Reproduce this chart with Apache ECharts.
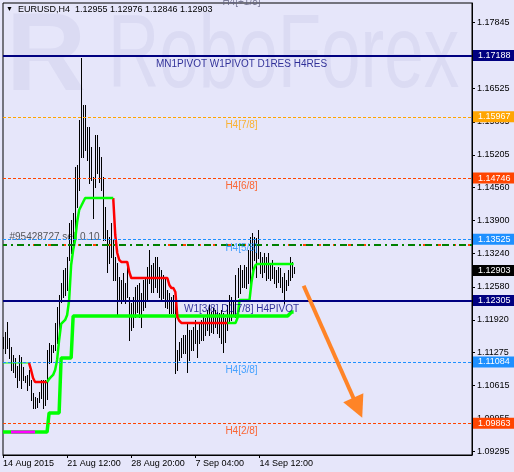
<!DOCTYPE html>
<html><head><meta charset="utf-8">
<script src="https://cdn.jsdelivr.net/npm/echarts@6/dist/echarts.min.js"></script>
<style>html,body{margin:0;padding:0;background:#E6E6FA;}#c{width:514px;height:472px;}</style>
</head><body><div id="c"></div>
<script>
// ---------- data ----------
const symbolName = 'EURUSD,H4';
const lastBar = [1.12955, 1.12976, 1.12846, 1.12903]; // O H L C

const highs = [
1.11580,1.11680,1.11879,1.11560,1.11381,1.11221,1.11162,1.11002,1.11221,1.11182,
1.10982,1.10803,1.10823,1.10923,1.10723,1.10464,1.10385,1.10365,1.10484,1.10723,
1.10723,1.10723,1.11321,1.11460,1.11421,1.11421,1.11859,1.12178,1.12417,1.12656,
1.12915,1.12954,1.13174,1.13851,1.13911,1.14050,1.14966,1.15006,1.15903,1.17138,
1.16201,1.16201,1.15763,1.15763,1.15365,1.14767,1.15604,1.15604,1.15365,1.15166,
1.14767,1.14170,1.13711,1.13572,1.13851,1.13512,1.13174,1.13054,1.12775,1.12715,
1.12855,1.12656,1.12974,1.12377,1.12257,1.12377,1.12576,1.12616,1.12656,1.12456,
1.12715,1.12775,1.12974,1.13313,1.13014,1.13054,1.13174,1.13174,1.12974,1.12915,
1.12815,1.12755,1.12516,1.12456,1.12377,1.12417,1.12417,1.11321,1.11480,1.11560,
1.11620,1.11620,1.11879,1.11719,1.11719,1.11779,1.11919,1.11719,1.11859,1.11919,
1.11978,1.11958,1.12118,1.12217,1.12078,1.12158,1.12118,1.12078,1.12058,1.12118,
1.12058,1.11958,1.12217,1.12417,1.12377,1.12317,1.12815,1.12954,1.13014,1.12915,
1.13014,1.12974,1.13313,1.13572,1.13652,1.13572,1.13552,1.13711,1.13273,1.13174,
1.13253,1.13174,1.13253,1.13054,1.13114,1.12974,1.12915,1.12974,1.12954,1.12775,
1.12855,1.12715,1.12915,1.13174,1.13074,1.12976
];
const lows = [
1.11361,1.11261,1.11361,1.11162,1.10923,1.10883,1.10783,1.10584,1.10723,1.10564,
1.10723,1.10684,1.10524,1.10624,1.10325,1.10166,1.10166,1.10186,1.10285,1.10365,
1.10166,1.10225,1.10345,1.11062,1.11082,1.11281,1.11321,1.11460,1.11719,1.12277,
1.12377,1.12417,1.12516,1.13114,1.13253,1.13373,1.13572,1.14170,1.14508,1.15166,
1.15166,1.15305,1.15106,1.14648,1.14707,1.13950,1.14568,1.14847,1.14668,1.14508,
1.13512,1.13512,1.12875,1.13054,1.13174,1.12715,1.12715,1.12018,1.12317,1.12257,
1.12317,1.12257,1.12377,1.11520,1.11719,1.11779,1.11978,1.12078,1.11978,1.11779,
1.12118,1.12178,1.12317,1.12656,1.12476,1.12476,1.12576,1.12476,1.12377,1.12317,
1.12357,1.12178,1.12158,1.12058,1.12058,1.12058,1.10863,1.10923,1.11122,1.11182,
1.11261,1.11261,1.10883,1.11122,1.11321,1.11321,1.11460,1.11182,1.11460,1.11520,
1.11520,1.11620,1.11719,1.11620,1.11680,1.11660,1.11779,1.11660,1.11580,1.11460,
1.11281,1.11480,1.11719,1.11859,1.11919,1.12018,1.11978,1.12377,1.12456,1.12576,
1.12576,1.12556,1.12656,1.12516,1.12815,1.13114,1.12775,1.13154,1.12855,1.12775,
1.12875,1.12715,1.12755,1.12715,1.12755,1.12656,1.12576,1.12676,1.12576,1.12476,
1.12257,1.12516,1.12616,1.12715,1.12775,1.12846
];

// trailing step line (green while rising, red while falling)
const trail = [
1.11062,1.11062,1.11062,1.11062,1.11062,1.11062,1.11062,1.11062,1.11062,1.11062,
1.11062,1.11062,1.11062,1.11062,1.10923,1.10763,1.10684,1.10684,1.10684,1.10684,
1.10684,1.10684,1.10684,1.10743,1.10783,1.10823,1.10923,1.11122,1.11520,1.11839,
1.11879,1.11919,1.12018,1.12317,1.13014,1.13313,1.13512,1.13871,1.14110,1.14189,
1.14269,1.14349,1.14349,1.14349,1.14349,1.14349,1.14349,1.14349,1.14349,1.14349,
1.14349,1.14349,1.14349,1.14349,1.14349,1.14349,1.13612,1.13253,1.13114,1.13074,
1.13074,1.13074,1.13074,1.12875,1.12755,1.12755,1.12755,1.12755,1.12755,1.12755,
1.12755,1.12755,1.12755,1.12755,1.12755,1.12755,1.12755,1.12755,1.12755,1.12755,
1.12755,1.12755,1.12755,1.12616,1.12556,1.12556,1.12476,1.11978,1.11899,1.11859,
1.11859,1.11859,1.11859,1.11859,1.11859,1.11859,1.11859,1.11859,1.11859,1.11859,
1.11859,1.11859,1.11859,1.11859,1.11859,1.11859,1.11859,1.11859,1.11859,1.11859,
1.11859,1.11859,1.11859,1.11859,1.11859,1.11859,1.11859,1.11958,1.12317,1.12317,
1.12317,1.12317,1.12317,1.12317,1.12676,1.12915,1.13014,1.13034,1.13034,1.13034,
1.13034,1.13034,1.13034,1.13034,1.13034,1.13034,1.13034,1.13034,1.13034,1.13034,
1.13034,1.13034,1.13034,1.13034,1.13034,1.13034
];
const trailThinRange = [0, 13];
const trailRedRanges = [[13, 22], [55, 112]];
const trailGreenRanges = [[22, 55], [112, 145]];

// thick support step line
const support = [
1.09688,1.09688,1.09688,1.09688,1.09688,1.09688,1.09688,1.09688,1.09688,1.09688,
1.09688,1.09688,1.09688,1.09688,1.09688,1.09688,1.09688,1.09688,1.09688,1.09688,
1.09688,1.09688,1.09688,1.10066,1.10066,1.10066,1.10066,1.10066,1.10066,1.11162,
1.11162,1.11162,1.11162,1.11162,1.11162,1.11998,1.11998,1.11998,1.11998,1.11998,
1.11998,1.11998,1.11998,1.11998,1.11998,1.11998,1.11998,1.11998,1.11998,1.11998,
1.11998,1.11998,1.11998,1.11998,1.11998,1.11998,1.11998,1.11998,1.11998,1.11998,
1.11998,1.11998,1.11998,1.11998,1.11998,1.11998,1.11998,1.11998,1.11998,1.11998,
1.11998,1.11998,1.11998,1.11998,1.11998,1.11998,1.11998,1.11998,1.11998,1.11998,
1.11998,1.11998,1.11998,1.11998,1.11998,1.11998,1.11998,1.11998,1.11998,1.11998,
1.11998,1.11998,1.11998,1.11998,1.11998,1.11998,1.11998,1.11998,1.11998,1.11998,
1.11998,1.11998,1.11998,1.11998,1.11998,1.11998,1.11998,1.11998,1.11998,1.11998,
1.11998,1.11998,1.11998,1.11998,1.11998,1.11998,1.11998,1.11998,1.11998,1.11998,
1.11998,1.11998,1.11998,1.11998,1.11998,1.11998,1.11998,1.11998,1.11998,1.11998,
1.11998,1.11998,1.11998,1.11998,1.11998,1.11998,1.11998,1.11998,1.11998,1.11998,
1.11998,1.11998,1.11998,1.12038,1.12078,1.12078
];
const magentaRange = [4, 16];

// levels
const levelValues = [1.17188, 1.15967, 1.14746, 1.13525, 1.12305, 1.11084, 1.09863];
const levelNames = ['MN1PIVOT W1PIVOT D1RES H4RES', 'H4[7/8]', 'H4[6/8]', 'H4[5/8]', 'W1[3/8] D1[7/8] H4PIVOT', 'H4[3/8]', 'H4[2/8]'];
const levelColors = ['#000080', '#FFA500', '#FF4500', '#1E90FF', '#000080', '#1E90FF', '#FF4500'];
const levelSolid = [true, false, false, false, true, false, false];
const topLevel = [1.18409, 'H4[+1/8]'];
const orderLevel = [1.13413, '#95428727 sell 0.10'];
const bidLevel = 1.12903;

// axes
const yTicks = [1.17845, 1.16525, 1.15865, 1.15205, 1.14560, 1.13900, 1.13240, 1.12580, 1.11920, 1.11275, 1.10615, 1.09955, 1.09295];
const yMin = 1.09229, yMax = 1.18233;
const xTickIndex = [0, 32, 64, 96, 128];
const xTickLabels = ['14 Aug 2015', '21 Aug 12:00', '28 Aug 20:00', '7 Sep 04:00', '14 Sep 12:00'];
const slotCount = 235;

// arrow annotation [bar index, price]
const arrowFrom = [149.5, 1.12600];
const arrowTo = [176.5, 1.10170];

// ---------- build ----------
const categories = [];
(function () {
  const months = ['Jan','Feb','Mar','Apr','May','Jun','Jul','Aug','Sep','Oct','Nov','Dec'];
  let t = Date.UTC(2015, 7, 14, 4);
  while (categories.length < slotCount) {
    const d = new Date(t);
    const wd = d.getUTCDay();
    if (wd !== 0 && wd !== 6) categories.push(d.getUTCDate() + ' ' + months[d.getUTCMonth()] + ' ' + String(d.getUTCHours()).padStart(2, '0') + ':00');
    t += 4 * 3600 * 1000;
  }
})();

function pick(arr, ranges) {
  return arr.map((v, i) => ranges.some(r => i >= r[0] && i <= r[1]) ? v : null);
}

const FONT = '"Liberation Sans", Arial, sans-serif';
const WM = 'rgba(110,110,175,0.09)';
const ARROW = '#FF8427';

const chart = echarts.init(document.getElementById('c'));
const isTick = (i) => xTickIndex.indexOf(i) >= 0;

const boxLabel = (v, bg) => ({ show: true, position: 'end', distance: 1, formatter: v.toFixed(5), color: '#fff',
  backgroundColor: bg, padding: [1, 5, 0, 5], fontSize: 9, lineHeight: 10, fontFamily: FONT });

const levelLines = levelValues.map((v, k) => ({
  yAxis: v,
  lineStyle: { color: levelColors[k], width: levelSolid[k] ? 2 : 1, type: levelSolid[k] ? 'solid' : [3, 2] },
  label: boxLabel(v, levelColors[k])
}));
levelLines.push({ yAxis: orderLevel[0], lineStyle: { color: '#FF4500', width: 2, type: [3, 12], dashOffset: 0 }, label: { show: false } });
levelLines.push({ yAxis: orderLevel[0], lineStyle: { color: '#008000', width: 2, type: [7, 4, 2, 4], dashOffset: 3 }, label: { show: false } });
levelLines.push({ yAxis: bidLevel, lineStyle: { color: 'rgba(0,0,0,0)', width: 0 }, label: boxLabel(bidLevel, '#000') });

const option = {
  animation: false,
  backgroundColor: '#E6E6FA',
  title: {
    left: 6, top: 5, padding: 0,
    text: '{t|▼}  ' + symbolName + '  ' + lastBar.map(v => v.toFixed(5)).join(' '),
    textStyle: { fontSize: 9, fontWeight: 'normal', color: '#000', fontFamily: FONT, rich: { t: { fontSize: 7, color: '#000' } } }
  },
  graphic: [
    { type: 'text', x: 6, y: 4, z: -10, silent: true, style: { text: 'R', fontSize: 111, fontWeight: 'bold', fontFamily: FONT, fill: WM, verticalAlign: 'top' } },
    { type: 'text', x: 108, y: 7, scaleY: 1.45, z: -10, silent: true, style: { text: 'RoboForex', fontSize: 71, fontFamily: FONT, fill: WM, verticalAlign: 'top' } }
  ],
  grid: { left: 3, right: 42, top: 3, bottom: 17, show: true, borderColor: '#000', borderWidth: 1, backgroundColor: 'transparent' },
  xAxis: {
    type: 'category', data: categories, boundaryGap: false,
    axisLine: { show: true, lineStyle: { color: '#000', width: 1 } },
    axisTick: { show: true, interval: (i) => isTick(i), length: 3, lineStyle: { color: '#000' } },
    axisLabel: { interval: (i) => isTick(i), formatter: (v, i) => { const k = xTickIndex.indexOf(i); return k >= 0 ? xTickLabels[k] : ''; },
      align: 'left', margin: 4, color: '#000', fontSize: 9, fontFamily: FONT },
    splitLine: { show: false }
  },
  yAxis: {
    type: 'value', position: 'right', min: yMin, max: yMax,
    axisLine: { show: true, lineStyle: { color: '#000', width: 1 } },
    axisTick: { show: true, length: 3, customValues: yTicks, lineStyle: { color: '#000' } },
    axisLabel: { customValues: yTicks, formatter: (v) => v.toFixed(5), color: '#000', fontSize: 9, fontFamily: FONT, margin: 5 },
    splitLine: { show: false }
  },
  series: [
    {
      type: 'line', name: 'levels', z: 1, data: highs.map(() => null), showSymbol: false, symbol: 'none',
      lineStyle: { opacity: 0 },
      markLine: { silent: true, symbol: 'none', precision: 5, animation: false, data: levelLines }
    },
    {
      type: 'custom', name: 'bars', z: 2,
      data: highs.map((h, i) => [i, h, lows[i]]),
      encode: { x: 0, y: [1, 2] },
      renderItem: (params, api) => {
        const a = api.coord([api.value(0), api.value(1)]);
        const b = api.coord([api.value(0), api.value(2)]);
        const x = Math.round(a[0]) + 0.5;
        return { type: 'line', shape: { x1: x, y1: Math.round(a[1]), x2: x, y2: Math.round(b[1]) + 1 }, style: { stroke: '#000', lineWidth: 1 } };
      }
    },
    { type: 'line', name: 'support', z: 3, data: support, showSymbol: false, symbol: 'none', lineStyle: { color: '#00FF00', width: 3.5 }, itemStyle: { color: '#00FF00' } },
    { type: 'line', name: 'support-m', z: 4, data: pick(support, [magentaRange]), showSymbol: false, symbol: 'none', lineStyle: { color: '#FF00FF', width: 3 } },
    { type: 'line', name: 'trail-thin', z: 3, data: pick(trail, [trailThinRange]), showSymbol: false, symbol: 'none', lineStyle: { color: '#00FF00', width: 1 } },
    { type: 'line', name: 'trail-red', z: 3, data: pick(trail, trailRedRanges), showSymbol: false, symbol: 'none', connectNulls: false, lineStyle: { color: '#FF0000', width: 2.5 } },
    { type: 'line', name: 'trail-green', z: 3, data: pick(trail, trailGreenRanges), showSymbol: false, symbol: 'none', connectNulls: false, lineStyle: { color: '#00FF00', width: 2.5 } },
    {
      type: 'scatter', name: 'level-text', z: 5, symbolSize: 1, clip: false, silent: true,
      itemStyle: { color: 'rgba(0,0,0,0)' },
      label: { show: true, position: 'bottom', distance: 3, fontSize: 10, fontFamily: FONT },
      data: levelValues.map((v, k) => ({ value: [119, v], label: { color: levelColors[k], formatter: levelNames[k] } }))
        .concat([{ value: [119, topLevel[0]], label: { color: '#606080', formatter: topLevel[1] } }])
    },
    {
      type: 'scatter', name: 'order-text', z: 1, symbolSize: 1, clip: false, silent: true,
      itemStyle: { color: 'rgba(0,0,0,0)' },
      label: { show: true, position: [7, -12], fontSize: 10, fontFamily: FONT, color: '#303030', formatter: orderLevel[1] },
      data: [[0, orderLevel[0]]]
    },
    {
      type: 'line', name: 'arrow', z: 6, data: [],
      markLine: { silent: true, animation: false, precision: 5, symbol: ['none', 'triangle'], symbolSize: [0, 22],
        itemStyle: { color: ARROW }, lineStyle: { color: ARROW, width: 4, type: 'solid' }, label: { show: false },
        data: [[{ coord: arrowFrom }, { coord: arrowTo, symbol: 'triangle', symbolSize: 22 }]] }
    }
  ]
};
chart.setOption(option);
</script>
</body></html>
